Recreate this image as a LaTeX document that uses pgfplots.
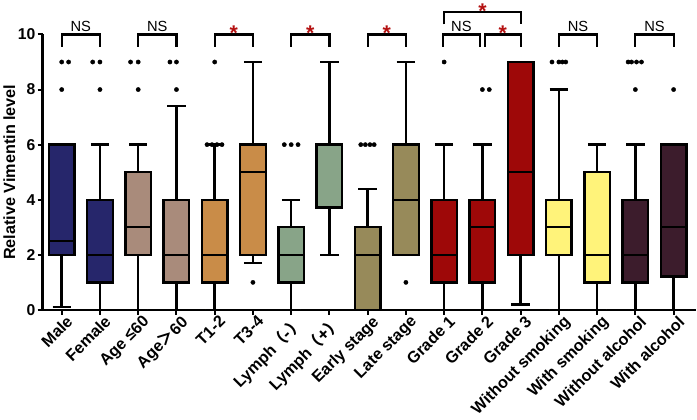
\documentclass[border=0pt]{standalone}
\usepackage{pgfplots}
\pgfplotsset{compat=1.18}
\usepgfplotslibrary{statistics}
\usepackage{fontspec}
\setmainfont{Liberation Sans}
\newfontfamily\cjk{Noto Sans CJK SC}
\definecolor{cnavy}{RGB}{38,38,107}
\definecolor{ctaupe}{RGB}{169,139,123}
\definecolor{corange}{RGB}{201,140,72}
\definecolor{cgreen}{RGB}{136,164,136}
\definecolor{colive}{RGB}{151,138,90}
\definecolor{cred}{RGB}{158,8,8}
\definecolor{cyellow}{RGB}{255,243,122}
\definecolor{cplum}{RGB}{60,28,44}
\definecolor{star}{RGB}{180,16,16}
\newcommand{\bx}[7]{%
\addplot[boxplot prepared={draw position=#1, lower whisker=#2, lower quartile=#3, median=#4, upper quartile=#5, upper whisker=#6}, draw=black, line width=2.4pt, fill=#7] coordinates {};}
\newcommand{\ns}{\fontsize{14.5}{16}\selectfont NS}
\newcommand{\st}{\textcolor{star}{\bfseries\fontsize{21}{21}\selectfont *}}
\newcommand{\brk}[4]{%
\draw[line width=2.2pt] (axis cs:#1,9.56) |- (axis cs:#2,10) -- (axis cs:#2,9.56);
\node[anchor=base, inner sep=0pt, yshift=#4] at (axis cs:{(#1+#2)/2},10) {#3};}
\begin{document}
\begin{tikzpicture}
\begin{axis}[
  scale only axis, width=645pt, height=272pt,
  xmin=-0.5, xmax=16.58, ymin=0, ymax=10,
  axis lines=left, axis line style={-, line width=2.4pt},
  clip=false,
  xtick={0,...,16},
  xticklabels={Male, Female, Age ≤60, Age{\cjk ＞}60, T1-2, T3-4, Lymph{\cjk （-）}, Lymph{\cjk （+）}, Early stage, Late stage, Grade 1, Grade 2, Grade 3, Without smoking, With smoking, Without alcohol, With alcohol},
  ytick={0,2,4,6,8,10},
  tick align=outside, major tick length=5pt,
  tick style={line width=2pt, black},
  x tick label style={rotate=45, anchor=north east, font=\bfseries\fontsize{16}{18}\selectfont, inner sep=1pt, xshift=4pt, yshift=-1pt},
  y tick label style={font=\bfseries\fontsize{15.5}{17}\selectfont, inner sep=2pt},
  /pgf/number format/assume math mode=true,
  ylabel={\bfseries Relative Vimentin level},
  ylabel style={font=\fontsize{16}{18}\selectfont, yshift=-3pt},
  boxplot/draw direction=y,
  boxplot/box extend=0.67,
  boxplot/whisker extend=0.48,
  boxplot/every median/.style={line width=2.4pt, draw=black},
  boxplot/every whisker/.style={line width=2.4pt, draw=black},
  boxplot/every box/.style={line width=2.4pt, draw=black},
]
\bx{0}{0.1}{2}{2.5}{6}{6}{cnavy}
\bx{1}{0}{1}{2}{4}{6}{cnavy}
\bx{2}{0}{2}{3}{5}{6}{ctaupe}
\bx{3}{0}{1}{2}{4}{7.4}{ctaupe}
\bx{4}{0}{1}{2}{4}{6}{corange}
\bx{5}{1.7}{2}{5}{6}{9}{corange}
\bx{6}{0}{1}{2}{3}{4}{cgreen}
\bx{7}{2}{3.72}{6}{6}{9}{cgreen}
\bx{8}{0}{0}{2}{3}{4.4}{colive}
\bx{9}{2}{2}{4}{6}{9}{colive}
\bx{10}{0}{1}{2}{4}{6}{cred}
\bx{11}{0}{1}{3}{4}{6}{cred}
\bx{12}{0.2}{2}{5}{9}{9}{cred}
\bx{13}{0}{2}{3}{4}{8}{cyellow}
\bx{14}{0}{1}{2}{5}{6}{cyellow}
\bx{15}{0}{1}{2}{4}{6}{cplum}
\bx{16}{0}{1.22}{3}{6}{6}{cplum}
\addplot[only marks, mark=*, mark size=2.1pt, black] coordinates {
(0,9) (0.18,9) (0,8)
(0.81,9) (1,9) (1,8)
(1.8,9) (2,9) (2,8)
(2.83,9) (3,9) (3,8)
(3.8,6) (3.93,6) (4.06,6) (4.19,6) (4,9)
(5,1)
(5.82,6) (6,6) (6.18,6)
(7.82,6) (7.94,6) (8.06,6) (8.17,6)
(9,1)
(10,9)
(11,8) (11.18,8)
(12.82,9) (13,9) (13.09,9) (13.18,9)
(14.81,9) (14.9,9) (15.03,9) (15.16,9) (15,8)
(16,8)
};
\brk{0}{1}{\ns}{2.5pt}
\brk{2}{3}{\ns}{2.5pt}
\brk{4}{5}{\st}{-6pt}
\brk{6}{7}{\st}{-6pt}
\brk{8}{9}{\st}{-6pt}
\brk{9.97}{10.93}{\ns}{2.5pt}
\brk{11.06}{12}{\st}{-6pt}
\draw[line width=2.2pt] (axis cs:10,10.37) |- (axis cs:12,10.81) -- (axis cs:12,10.37);
\node[anchor=base, inner sep=0pt, yshift=-6pt, text height=18pt] at (axis cs:11,10.81) {\st};
\brk{13}{14}{\ns}{2.5pt}
\brk{15}{16}{\ns}{2.5pt}
\end{axis}
\end{tikzpicture}
\end{document}
